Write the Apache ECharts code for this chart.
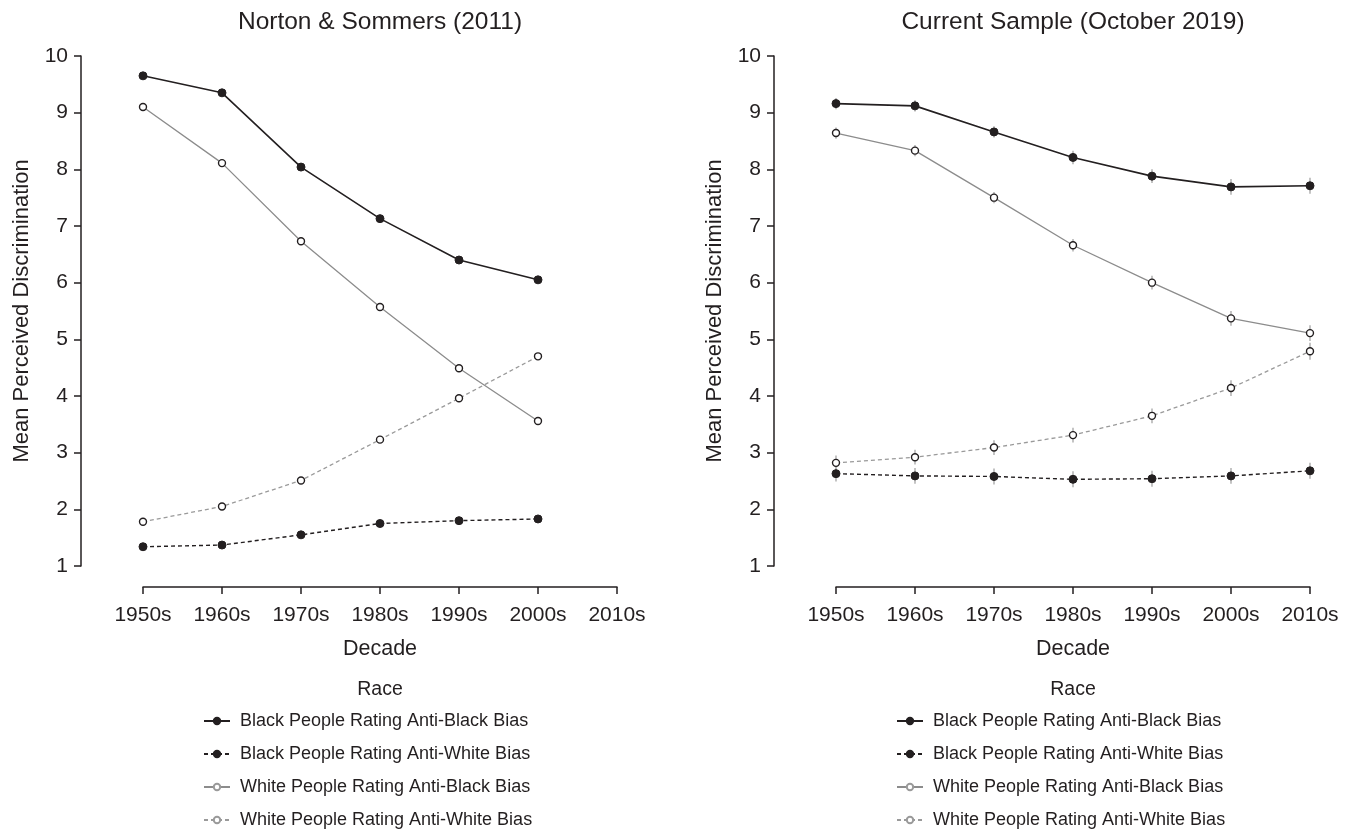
<!DOCTYPE html>
<html>
<head>
<meta charset="utf-8">
<script src="https://cdn.jsdelivr.net/npm/echarts@6/dist/echarts.min.js"></script>
<style>
html,body{margin:0;padding:0;background:#fff;}
#chart{width:1353px;height:833px;}
</style>
</head>
<body>
<div id="chart"></div>
<script>
// ---- data ----
const decades = ['1950s','1960s','1970s','1980s','1990s','2000s','2010s'];
const seriesNames = [
  'Black People Rating Anti-Black Bias',
  'Black People Rating Anti-White Bias',
  'White People Rating Anti-Black Bias',
  'White People Rating Anti-White Bias'
];
const panelTitles = ['Norton & Sommers (2011)', 'Current Sample (October 2019)'];

// Norton & Sommers (2011)
const nsBlackAntiBlack = [9.65, 9.35, 8.04, 7.13, 6.40, 6.05, null];
const nsBlackAntiWhite = [1.34, 1.37, 1.55, 1.75, 1.80, 1.83, null];
const nsWhiteAntiBlack = [9.10, 8.11, 6.73, 5.57, 4.49, 3.56, null];
const nsWhiteAntiWhite = [1.78, 2.05, 2.51, 3.23, 3.96, 4.70, null];

// Current Sample (October 2019)
const csBlackAntiBlack = [9.16, 9.12, 8.66, 8.21, 7.88, 7.69, 7.71];
const csBlackAntiWhite = [2.63, 2.59, 2.58, 2.53, 2.54, 2.59, 2.68];
const csWhiteAntiBlack = [8.64, 8.33, 7.50, 6.66, 6.00, 5.37, 5.11];
const csWhiteAntiWhite = [2.82, 2.92, 3.09, 3.31, 3.65, 4.14, 4.79];

// error bar half-widths (current sample)
const csErrBlackAntiBlack = [0.10, 0.10, 0.10, 0.12, 0.12, 0.14, 0.14];
const csErrBlackAntiWhite = [0.14, 0.14, 0.14, 0.14, 0.14, 0.14, 0.14];
const csErrWhiteAntiBlack = [0.10, 0.10, 0.10, 0.11, 0.12, 0.13, 0.14];
const csErrWhiteAntiWhite = [0.13, 0.13, 0.13, 0.13, 0.13, 0.14, 0.15];

const yMin = 1, yMax = 10, yInterval = 1;

// ---- styling ----
const FONT = "'Liberation Sans', Arial, sans-serif";
const INK = '#231f20';
const GRAY = '#8c8c8c';
const ERR = '#b5b5b5';

const styles = [
  {line:{color:INK, width:1.6, type:'solid'}, sym:{color:INK, borderColor:INK, borderWidth:1}, size:8},
  {line:{color:INK, width:1.4, type:[4,3]}, sym:{color:INK, borderColor:INK, borderWidth:1}, size:8},
  {line:{color:GRAY, width:1.3, type:'solid'}, sym:{color:'#fff', borderColor:INK, borderWidth:1.4}, size:7},
  {line:{color:'#9a9a9a', width:1.3, type:[4,3]}, sym:{color:'#fff', borderColor:INK, borderWidth:1.4}, size:7}
];

const panels = [
  {left:143, axisX:380, data:[nsBlackAntiBlack, nsBlackAntiWhite, nsWhiteAntiBlack, nsWhiteAntiWhite], err:null},
  {left:836, axisX:1073, data:[csBlackAntiBlack, csBlackAntiWhite, csWhiteAntiBlack, csWhiteAntiWhite],
   err:[csErrBlackAntiBlack, csErrBlackAntiWhite, csErrWhiteAntiBlack, csErrWhiteAntiWhite]}
];

const grids = [], xAxes = [], yAxes = [], series = [], legends = [], graphics = [];

panels.forEach((p, pi) => {
  grids.push({left:p.left, top:56, width:474, height:510, containLabel:false});
  xAxes.push({
    type:'category', gridIndex:pi, data:decades, boundaryGap:false, offset:21,
    axisLine:{show:true, lineStyle:{color:INK, width:1.5}},
    axisTick:{show:true, length:7, lineStyle:{color:INK, width:1.5}},
    axisLabel:{color:INK, fontFamily:FONT, fontSize:21, margin:18, interval:0},
    splitLine:{show:false},
    name:'Decade', nameLocation:'middle', nameGap:51,
    nameTextStyle:{color:INK, fontFamily:FONT, fontSize:21.5}
  });
  yAxes.push({
    type:'value', gridIndex:pi, min:yMin, max:yMax, interval:yInterval, offset:62,
    axisLine:{show:true, lineStyle:{color:INK, width:1.5}},
    axisTick:{show:true, length:7, lineStyle:{color:INK, width:1.5}},
    axisLabel:{color:INK, fontFamily:FONT, fontSize:21, margin:13},
    splitLine:{show:false},
    name:'Mean Perceived Discrimination', nameLocation:'middle', nameGap:48, nameRotate:90,
    nameTextStyle:{color:INK, fontFamily:FONT, fontSize:22}
  });
  if (p.err) {
    p.err.forEach((e, si) => {
      const vals = p.data[si];
      series.push({
        type:'custom', xAxisIndex:pi, yAxisIndex:pi, silent:true, z:1,
        encode:{x:0, y:[1,2]},
        data: decades.map((d, i) => vals[i] == null ? null : [i, vals[i] - e[i], vals[i] + e[i]]).filter(Boolean),
        renderItem:(params, api) => {
          const lo = api.coord([api.value(0), api.value(1)]);
          const hi = api.coord([api.value(0), api.value(2)]);
          return {type:'line', shape:{x1:lo[0], y1:lo[1], x2:hi[0], y2:hi[1]},
                  style:{stroke:ERR, lineWidth:1.6}};
        }
      });
    });
  }
  p.data.forEach((vals, si) => {
    const st = styles[si];
    series.push({
      type:'line', name:seriesNames[si], xAxisIndex:pi, yAxisIndex:pi,
      data: vals, symbol:'circle', symbolSize:st.size, showSymbol:true,
      lineStyle:st.line, itemStyle:st.sym, z:si < 2 ? 4 : 3,
      emphasis:{disabled:true}, animation:false
    });
  });
  legends.push({
    orient:'vertical', left:p.left + 60, top:709,
    itemWidth:26, itemHeight:8, itemGap:9, padding:0,
    selectedMode:false,
    textStyle:{color:INK, fontFamily:FONT, fontSize:18, lineHeight:24, padding:[0,0,0,5]},
    data: seriesNames.map((n, si) => si < 2 ? {name:n} :
      {name:n, itemStyle:{borderColor:'#9a9a9a', color:'#fff'}})
  });
  graphics.push({type:'text', x:p.axisX, y:22,
    style:{text:panelTitles[pi], align:'center', verticalAlign:'middle',
           fontFamily:FONT, fontSize:24.5, fill:INK}});
  graphics.push({type:'text', x:p.axisX, y:690,
    style:{text:'Race', align:'center', verticalAlign:'middle',
           fontFamily:FONT, fontSize:19.5, fill:INK}});
});

const chart = echarts.init(document.getElementById('chart'), null, {renderer:'canvas'});
chart.setOption({
  backgroundColor:'#fff',
  animation:false,
  grid:grids, xAxis:xAxes, yAxis:yAxes, series:series, legend:legends,
  graphic:graphics, tooltip:{show:false}
});
</script>
</body>
</html>
